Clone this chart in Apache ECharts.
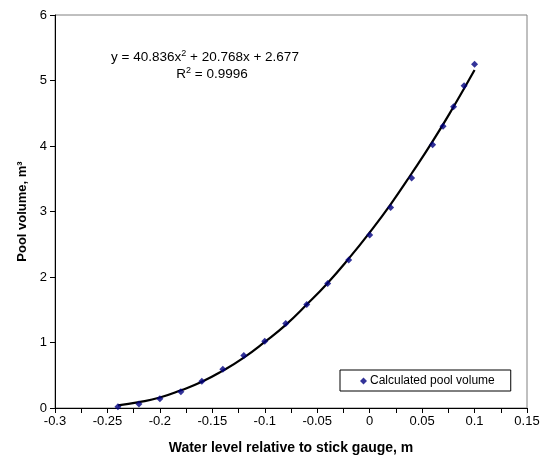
<!DOCTYPE html>
<html>
<head>
<meta charset="utf-8">
<script src="https://cdn.jsdelivr.net/npm/echarts@6/dist/echarts.min.js"></script>
<style>
html,body{margin:0;padding:0;background:#fff;}
#chart{width:543px;height:461px;}
</style>
</head>
<body>
<div id="chart"></div>
<script>
// Calculated pool volume points
const levelX = [-0.24,-0.22,-0.2,-0.18,-0.16,-0.14,-0.12,-0.1,-0.08,-0.06,-0.04,-0.02,0,0.02,0.04,0.06,0.07,0.08,0.09,0.1];
const volumeY = [0.02,0.06,0.14,0.25,0.41,0.59,0.8,1.02,1.29,1.58,1.9,2.26,2.64,3.06,3.51,4.02,4.3,4.6,4.92,5.25];
// Trendline values
const trendX = [-0.24,-0.22,-0.2,-0.18,-0.16,-0.14,-0.12,-0.1,-0.08,-0.06,-0.04,-0.02,0,0.02,0.04,0.06,0.08,0.1];
const trendY = [0.04,0.09,0.16,0.27,0.40,0.57,0.77,1.01,1.27,1.58,1.91,2.28,2.68,3.11,3.58,4.07,4.60,5.16];
const seriesName = 'Calculated pool volume';
const xTitle = 'Water level relative to stick gauge, m';
const yTitle = 'Pool volume, m\u00B3';

const font = '"Liberation Sans", Arial, sans-serif';
const chart = echarts.init(document.getElementById('chart'), null, {renderer:'canvas'});
const rich = {
  t:{fontFamily:font,fontSize:13.5,color:'#000'},
  s:{fontFamily:font,fontSize:9,color:'#000',verticalAlign:'top',padding:[0,0,7,0]}
};
chart.setOption({
  animation:false,
  backgroundColor:'#fff',
  textStyle:{fontFamily:font},
  grid:{left:55,right:16,top:15,bottom:53,show:true,borderColor:'#808080',borderWidth:1,backgroundColor:'#fff'},
  legend:{
    data:[{name:seriesName,icon:'diamond'}],
    left:340, top:370,
    orient:'horizontal',
    itemWidth:7, itemHeight:7, itemGap:4,
    padding:[5,16,4,20],
    borderColor:'#000', borderWidth:1,
    backgroundColor:'#fff',
    textStyle:{fontFamily:font,fontSize:12,color:'#000',padding:[0,0,0,-2]}
  },
  xAxis:{
    type:'value', min:-0.3, max:0.15, interval:0.05,
    name:xTitle, nameLocation:'middle', nameGap:33,
    nameTextStyle:{fontFamily:font,fontSize:14,fontWeight:'bold',color:'#000'},
    axisLine:{onZero:false,lineStyle:{color:'#000',width:1}},
    axisTick:{show:true,length:5,inside:false,lineStyle:{color:'#000'}},
    minorTick:{show:true,splitNumber:2,length:5,lineStyle:{color:'#000'}},
    axisLabel:{fontFamily:font,fontSize:13,color:'#000',margin:7,
      formatter:v=>String(+(+v).toFixed(3))},
    splitLine:{show:false}
  },
  yAxis:{
    type:'value', min:0, max:6, interval:1,
    name:yTitle, nameLocation:'middle', nameGap:26, nameRotate:90,
    nameTextStyle:{fontFamily:font,fontSize:13,fontWeight:'bold',color:'#000'},
    axisLine:{show:true,onZero:false,lineStyle:{color:'#000',width:1}},
    axisTick:{show:true,length:5,lineStyle:{color:'#000'}},
    axisLabel:{fontFamily:font,fontSize:13,color:'#000',margin:8},
    splitLine:{show:false}
  },
  graphic:[
    {type:'text', x:205, y:57, style:{
      text:'{t|y = 40.836x}{s|2}{t| + 20.768x + 2.677}',
      align:'center', verticalAlign:'middle', rich:rich
    }},
    {type:'text', x:212, y:74, style:{
      text:'{t|R}{s|2}{t| = 0.9996}',
      align:'center', verticalAlign:'middle', rich:rich
    }}
  ],
  series:[
    {
      name:'trend', type:'line', smooth:true, showSymbol:false, silent:true,
      data:trendX.map((x,i)=>[x,trendY[i]]),
      lineStyle:{color:'#000',width:2.2}, z:2
    },
    {
      name:seriesName, type:'scatter', symbol:'diamond', symbolSize:7,
      data:levelX.map((x,i)=>[x,volumeY[i]]),
      itemStyle:{color:'#000080'}, z:3
    }
  ]
});
</script>
</body>
</html>
